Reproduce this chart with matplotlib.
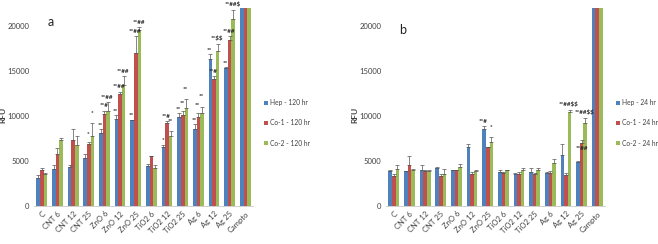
"""Two grouped bar panels (RFU at 120 hr and 24 hr)."""
import numpy as np
import matplotlib
matplotlib.use("Agg")
import matplotlib.pyplot as plt

plt.rcParams['font.family'] = ['Lato', 'DejaVu Sans']
plt.rcParams['text.parse_math'] = False

categories = ["C", "CNT 6", "CNT 12", "CNT 25", "ZnO 6", "ZnO 12", "ZnO 25",
              "TiO2 6", "TiO2 12", "TiO2 25", "Ag 6", "Ag 12", "Ag 25", "Campto"]

# panel a, 120 hr
hep_120 = [3100, 4100, 4300, 5300, 8100, 9700, 9500, 4450, 6600, 9900, 8600, 16300, 15300, 30000]
co1_120 = [4000, 5800, 7300, 6900, 10200, 12400, 17000, 5500, 9200, 10100, 9850, 14100, 18500, 30000]
co2_120 = [3550, 7300, 6800, 7800, 10500, 13400, 19600, 4200, 7800, 10850, 10300, 17250, 20800, 30000]
hep_120_err = [300, 450, 200, 500, 400, 400, 100, 200, 200, 400, 500, 600, 100, 0]
co1_120_err = [250, 600, 1300, 250, 400, 300, 1900, 100, 200, 500, 500, 300, 400, 0]
co2_120_err = [150, 200, 1000, 1400, 1000, 1000, 300, 300, 500, 1000, 700, 800, 1000, 0]

# panel b, 24 hr
hep_24 = [3850, 3850, 4000, 4200, 4000, 6500, 8600, 3800, 3550, 3800, 3700, 5700, 4900, 30000]
co1_24 = [3300, 4600, 3850, 3300, 3950, 3600, 6500, 3700, 3550, 3550, 3650, 3450, 7000, 30000]
co2_24 = [4100, 4050, 3900, 3600, 4350, 3900, 7150, 4000, 4000, 4000, 4800, 10400, 9200, 30000]
hep_24_err = [200, 50, 500, 100, 50, 400, 300, 200, 100, 400, 100, 1200, 100, 0]
co1_24_err = [200, 1000, 200, 200, 100, 200, 50, 100, 200, 100, 200, 200, 300, 0]
co2_24_err = [500, 100, 50, 500, 300, 50, 500, 50, 200, 200, 400, 300, 600, 0]

# significance marks: (category, series, text)
marks_120 = [(3, 1, "*"), (3, 2, "*"),
             (4, 0, "**"), (4, 1, "**#"), (4, 2, "**##"),
             (5, 0, "**"), (5, 1, "**##"), (5, 2, "**##"),
             (6, 0, "**"), (6, 1, "**##"), (6, 2, "**##"),
             (8, 0, "*"), (8, 1, "**#"), (8, 2, "**"),
             (9, 0, "**"), (9, 1, "**"), (9, 2, "**"),
             (10, 0, "**"), (10, 1, "**"), (10, 2, "**"),
             (11, 0, "**"), (11, 1, "**#"), (11, 2, "**$$"),
             (12, 0, "**"), (12, 1, "**##"), (12, 2, "**##$")]
marks_24 = [(6, 0, "**#"), (6, 2, "*"),
            (11, 2, "**##$$"), (12, 2, "**##$$"), (12, 1, "**##")]

colors = ["#4F81BD", "#C0504D", "#9BBB59"]
TXT = "#404040"


def draw_panel(ax, series, errs, labels, marks, letter, letter_y, leg_x):
    x = np.arange(len(categories))
    w = 0.23
    for k, (vals, err, lab, col) in enumerate(zip(series, errs, labels, colors)):
        pos = x + (k - 1) * w
        ax.bar(pos, vals, w, color=col, label=lab, zorder=2)
        ax.errorbar(pos[:-1], vals[:-1], yerr=[np.zeros(len(err) - 1), err[:-1]],
                    fmt="none", ecolor="#555555", elinewidth=0.5, capsize=1.3,
                    capthick=0.5, zorder=3)
    for i, k, txt in marks:
        top = series[k][i] + errs[k][i]
        if txt == "**##" and letter == "b":
            ax.text(i + (k - 1) * w, series[k][i] - 300, txt, ha="center", va="top",
                    fontsize=4.5, fontweight="bold", color="#222222", zorder=4)
            continue
        ax.text(i + (k - 1) * w - 0.05, top + 250 + 350 * k * (len(txt) < 3),
                txt, ha="center", va="bottom", fontsize=4.5, fontweight="bold",
                color="#222222", zorder=4, clip_on=False)
    ax.set_xlim(-0.5, len(categories) - 0.5)
    ax.set_ylim(0, 22000)
    ax.set_yticks([0, 5000, 10000, 15000, 20000])
    ax.set_xticks(x)
    ax.set_xticklabels(categories, rotation=45, ha="right", rotation_mode="anchor",
                       fontsize=5.5, color=TXT)
    ax.tick_params(axis="both", length=0, labelsize=5.5, colors=TXT)
    ax.tick_params(axis="x", pad=3)
    for s in ("top", "right", "left"):
        ax.spines[s].set_visible(False)
    ax.spines["bottom"].set_color("#d0d0d0")
    ax.spines["bottom"].set_linewidth(0.7)
    ax.set_ylabel("RFU", fontsize=6, fontweight="bold", color=TXT)
    ax.yaxis.set_label_coords(-0.125, 0.46)
    ax.text(0.06, letter_y, letter, transform=ax.transAxes, fontsize=9,
            color="#222222", va="center")
    ax.legend(frameon=False, fontsize=4.8, handlelength=0.6, handleheight=0.6,
              handletextpad=0.3, labelspacing=2.0, loc="center left",
              bbox_to_anchor=(leg_x, 0.42), labelcolor=TXT, borderpad=0.2)


fig = plt.figure(figsize=(6.58, 2.44), dpi=100)
ax_a = fig.add_axes([0.0517, 0.156, 0.333, 0.811])
ax_b = fig.add_axes([0.5866, 0.156, 0.333, 0.811])

draw_panel(ax_a, [hep_120, co1_120, co2_120], [hep_120_err, co1_120_err, co2_120_err],
           ["Hep - 120 hr", "Co-1 - 120 hr", "Co-2 - 120 hr"], marks_120, "a", 0.93, 1.03)
draw_panel(ax_b, [hep_24, co1_24, co2_24], [hep_24_err, co1_24_err, co2_24_err],
           ["Hep - 24 hr", "Co-1 - 24 hr", "Co-2 - 24 hr"], marks_24, "b", 0.89, 1.03)

fig.savefig("out.png", dpi=100, facecolor="white")
